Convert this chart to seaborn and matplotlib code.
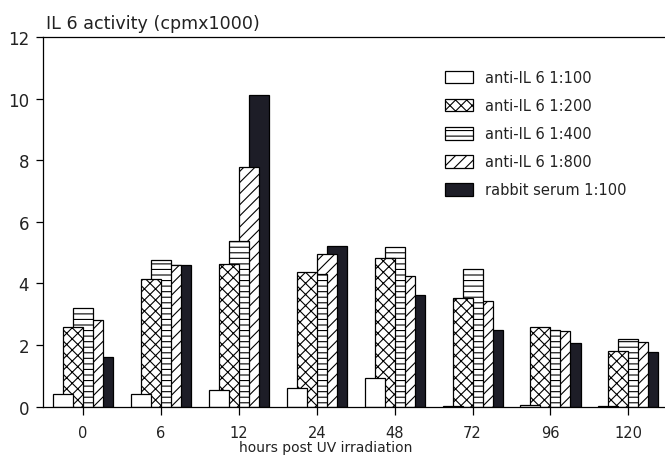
import numpy as np
import pandas as pd
import matplotlib
matplotlib.use("Agg")
import matplotlib.pyplot as plt
from matplotlib.patches import Patch
import seaborn as sns

# ---- data ----
hours = ["0", "6", "12", "24", "48", "72", "96", "120"]
series_names = ["anti-IL 6 1:100", "anti-IL 6 1:200", "anti-IL 6 1:400",
                "anti-IL 6 1:800", "rabbit serum 1:100"]
anti_100 = [0.40, 0.40, 0.55, 0.60, 0.93, 0.03, 0.06, 0.03]
anti_200 = [2.60, 4.15, 4.64, 4.37, 4.81, 3.52, 2.59, 1.80]
anti_400 = [3.20, 4.75, 5.37, 4.30, 5.18, 4.48, 2.48, 2.20]
anti_800 = [2.80, 4.59, 7.78, 4.94, 4.24, 3.43, 2.47, 2.11]
rabbit_100 = [1.60, 4.60, 10.12, 5.20, 3.62, 2.49, 2.08, 1.77]
y_ticks = [0, 2, 4, 6, 8, 10, 12]

values = [anti_100, anti_200, anti_400, anti_800, rabbit_100]
hatches = [None, "xxx", "---", "///", None]
faces = ["white", "white", "white", "white", "#1d1d27"]

sns.set_theme(style="ticks")
plt.rcParams["font.family"] = ["DejaVu Sans"]
plt.rcParams["hatch.linewidth"] = 0.8
plt.rcParams["hatch.color"] = "black"
txt = "#222222"
plt.rcParams["text.color"] = txt
plt.rcParams["axes.labelcolor"] = txt
plt.rcParams["xtick.color"] = "black"
plt.rcParams["ytick.color"] = "black"
plt.rcParams["xtick.labelcolor"] = txt
plt.rcParams["ytick.labelcolor"] = txt

fig = plt.figure(figsize=(6.65, 4.64), dpi=100)
ax = fig.add_axes([0.0647, 0.1213, 0.9353, 0.797])

width = 0.257
step = 0.1285
pos = np.arange(len(hours))
# draw back to front: rabbit first, white last
for k in [4, 3, 2, 1, 0]:
    df = pd.DataFrame({"x": pos + (k - 2) * step, "y": values[k]})
    sns.barplot(data=df, x="x", y="y", native_scale=True, width=width,
                color=faces[k], saturation=1, errorbar=None,
                edgecolor="black", linewidth=0.9, hatch=hatches[k], ax=ax)

ax.set_xlim(-0.513, 7.47)
ax.set_ylim(0, 12)
ax.set_xticks(pos)
ax.set_xticklabels(hours)
ax.set_yticks(y_ticks)
ax.set_xlabel("hours post UV irradiation", fontsize=10, va="center")
ax.xaxis.set_label_coords(0.455, -0.109)
ax.set_ylabel("")
ax.tick_params(axis="x", length=6, width=0.9, pad=7, labelsize=10.5)
ax.tick_params(axis="y", length=5, width=0.9, pad=5, labelsize=12)
for s in ["left", "bottom", "top"]:
    ax.spines[s].set_linewidth(0.9)
    ax.spines[s].set_color("black")
ax.spines["right"].set_visible(False)

fig.text(0.069, 0.948, "IL 6 activity (cpmx1000)", fontsize=12.6,
         ha="left", va="center")

handles = [Patch(facecolor=faces[k], edgecolor="black", hatch=hatches[k],
                 linewidth=0.9) for k in range(5)]
fig.legend(handles, series_names, loc="upper left",
           bbox_to_anchor=(0.669, 0.847), frameon=False, fontsize=10.5,
           borderpad=0, borderaxespad=0, handlelength=1.9, handleheight=0.95,
           handletextpad=0.85, labelspacing=0.9)

fig.savefig("out.png", dpi=100)
